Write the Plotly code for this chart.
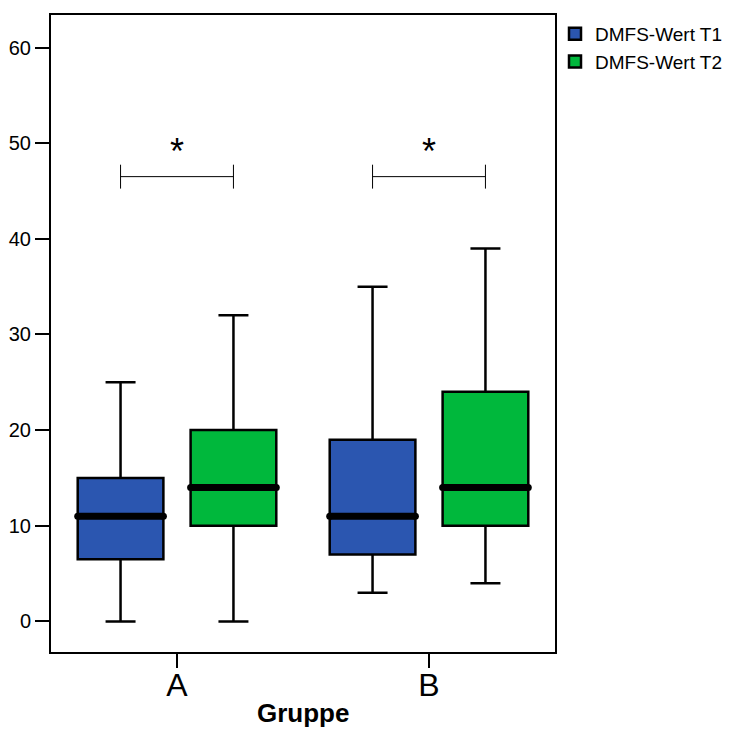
import plotly.graph_objects as go

groups = ["A", "B"]
group_pos = [0, 1]
series_names = ["DMFS-Wert T1", "DMFS-Wert T2"]
colors = ["#2B56B0", "#00B83C"]
x_title = "Gruppe"

t1_low = [0, 3]
t1_q1 = [6.5, 7]
t1_med = [11, 11]
t1_q3 = [15, 19]
t1_high = [25, 35]

t2_low = [0, 4]
t2_q1 = [10, 10]
t2_med = [14, 14]
t2_q3 = [20, 24]
t2_high = [32, 39]

sig_y = 46.5
sig_label = "*"
y_ticks = [0, 10, 20, 30, 40, 50, 60]

offset = 0.224
box_w = 0.34

series = [
    (t1_low, t1_q1, t1_med, t1_q3, t1_high),
    (t2_low, t2_q1, t2_med, t2_q3, t2_high),
]

fig = go.Figure()
centers_all = []
for i, (lo, q1, med, q3, hi) in enumerate(series):
    sign = -1 if i == 0 else 1
    xs = [p + sign * offset for p in group_pos]
    centers_all.append(xs)
    fig.add_trace(go.Box(
        x=xs, q1=q1, median=med, q3=q3, lowerfence=lo, upperfence=hi,
        name=series_names[i], fillcolor=colors[i],
        line=dict(color="black", width=2.5), width=box_w,
        whiskerwidth=0.35, boxpoints=False, legendgroup=series_names[i],
        hoverinfo="skip",
    ))

# thick median lines
for i, (lo, q1, med, q3, hi) in enumerate(series):
    for c, m in zip(centers_all[i], med):
        fig.add_trace(go.Scatter(
            x=[c - box_w / 2, c + box_w / 2], y=[m, m], mode="lines+markers",
            line=dict(color="black", width=7),
            marker=dict(color="black", size=7, symbol="circle"),
            showlegend=False, hoverinfo="skip",
        ))

# significance brackets
for g in range(len(groups)):
    a = centers_all[0][g]
    b = centers_all[1][g]
    fig.add_trace(go.Scatter(
        x=[a, b, None, a, a, None, b, b],
        y=[sig_y, sig_y, None, sig_y - 1.25, sig_y + 1.25, None, sig_y - 1.25, sig_y + 1.25],
        mode="lines", line=dict(color="black", width=1),
        showlegend=False, hoverinfo="skip",
    ))
    fig.add_annotation(x=(a + b) / 2, y=sig_y + 2.6, text=sig_label, showarrow=False,
                       font=dict(size=36, color="black", family="Liberation Sans"))

fig.add_annotation(xref="paper", yref="paper", x=0.5, y=0, yshift=-61,
                   xanchor="center", yanchor="middle", showarrow=False,
                   text="<b>" + x_title + "</b>", borderpad=0,
                   font=dict(size=26, color="black"))

fig.update_layout(
    width=727, height=721,
    margin=dict(l=43, r=180, t=7, b=77, autoexpand=False),
    plot_bgcolor="white", paper_bgcolor="white",
    font=dict(family="Liberation Sans, Arial, sans-serif", color="black"),
    showlegend=True,
    legend=dict(x=1.0, y=1.0, xanchor="left", yanchor="top",
                font=dict(size=19, color="black"), tracegroupgap=0,
                bgcolor="rgba(0,0,0,0)"),
    xaxis=dict(range=[-0.5, 1.5], tickvals=group_pos, ticktext=groups,
               showgrid=False, zeroline=False, showline=True, linecolor="black",
               linewidth=2, mirror=True, ticks="outside", ticklen=14, tickwidth=2,
               tickcolor="black", tickfont=dict(size=32), automargin=False,
               ticklabelstandoff=-10),
    yaxis=dict(range=[-3.2, 63.4], tickvals=y_ticks, showgrid=False, zeroline=False,
               showline=True, linecolor="black", linewidth=2, mirror=True,
               ticks="outside", ticklen=14, tickwidth=2, tickcolor="black",
               tickfont=dict(size=20), automargin=False),
)

fig.write_html("out.html")
